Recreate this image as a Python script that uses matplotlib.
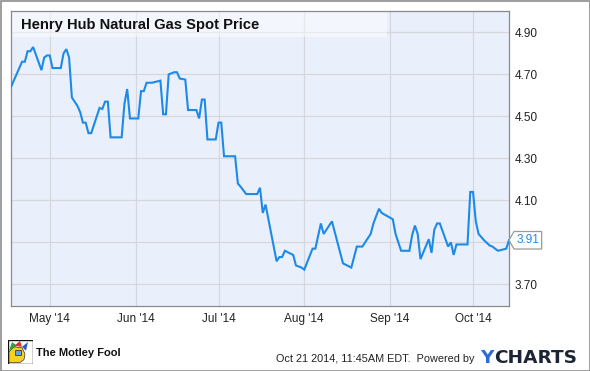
import pandas as pd
import matplotlib
matplotlib.use("Agg")
import matplotlib.pyplot as plt
import matplotlib.dates as mdates
import matplotlib.transforms as mtransforms
from matplotlib.patches import Rectangle, Polygon
from matplotlib.text import Text

# ---------------------------------------------------
# DATA
# ---------------------------------------------------
dates = [
    "2014-04-17", "2014-04-21", "2014-04-22", "2014-04-23", "2014-04-24", "2014-04-25",
    "2014-04-28", "2014-04-29", "2014-04-30",
    "2014-05-01", "2014-05-02", "2014-05-05", "2014-05-06", "2014-05-07", "2014-05-08",
    "2014-05-09", "2014-05-11", "2014-05-12", "2014-05-13", "2014-05-14", "2014-05-15",
    "2014-05-16", "2014-05-19", "2014-05-20", "2014-05-21", "2014-05-22", "2014-05-23",
    "2014-05-27", "2014-05-28", "2014-05-29", "2014-05-30",
    "2014-06-02", "2014-06-03", "2014-06-04", "2014-06-05", "2014-06-07", "2014-06-10",
    "2014-06-11", "2014-06-12", "2014-06-13", "2014-06-15", "2014-06-16", "2014-06-17",
    "2014-06-19", "2014-06-20", "2014-06-23", "2014-06-24", "2014-06-25", "2014-06-26",
    "2014-06-27", "2014-06-30",
    "2014-07-01", "2014-07-02", "2014-07-03", "2014-07-07", "2014-07-08", "2014-07-09",
    "2014-07-11", "2014-07-15", "2014-07-16", "2014-07-17", "2014-07-18", "2014-07-22",
    "2014-07-23", "2014-07-24", "2014-07-25", "2014-07-28", "2014-07-29", "2014-07-31",
    "2014-08-01", "2014-08-04", "2014-08-05", "2014-08-07", "2014-08-08", "2014-08-11",
    "2014-08-15", "2014-08-18", "2014-08-20", "2014-08-22", "2014-08-25", "2014-08-26",
    "2014-08-28", "2014-08-29",
    "2014-09-02", "2014-09-03", "2014-09-05", "2014-09-08", "2014-09-09", "2014-09-10",
    "2014-09-11", "2014-09-12", "2014-09-15", "2014-09-16", "2014-09-17", "2014-09-18",
    "2014-09-19", "2014-09-22", "2014-09-23", "2014-09-24", "2014-09-25", "2014-09-29",
    "2014-09-30",
    "2014-10-01", "2014-10-02", "2014-10-03", "2014-10-05", "2014-10-07", "2014-10-08",
    "2014-10-10", "2014-10-13", "2014-10-14",
]
prices = [
    4.64, 4.76, 4.76, 4.81, 4.81, 4.83, 4.72, 4.78, 4.79,
    4.79, 4.73, 4.73, 4.80, 4.82, 4.78, 4.59, 4.55, 4.52, 4.47, 4.47, 4.42,
    4.42, 4.54, 4.535, 4.57, 4.57, 4.40, 4.40, 4.56, 4.63, 4.49,
    4.49, 4.62, 4.62, 4.66, 4.66, 4.67, 4.51, 4.51, 4.70, 4.71, 4.71, 4.68,
    4.675, 4.53, 4.53, 4.49, 4.58, 4.58, 4.39, 4.39,
    4.47, 4.47, 4.31, 4.31, 4.18, 4.165, 4.13, 4.13, 4.16, 4.04, 4.08, 3.81,
    3.83, 3.83, 3.86, 3.84, 3.79, 3.78,
    3.77, 3.87, 3.87, 3.99, 3.94, 4.00, 3.80, 3.78, 3.88, 3.88, 3.94, 3.99,
    4.06, 4.04,
    4.01, 3.94, 3.86, 3.86, 3.935, 3.98, 3.94, 3.82, 3.915, 3.85, 3.96, 3.99,
    3.99, 3.88, 3.90, 3.84, 3.89, 3.89, 4.14,
    4.14, 4.00, 3.94, 3.91, 3.885, 3.88, 3.86, 3.87, 3.91,
]
y_ticks = [3.70, 3.90, 4.10, 4.30, 4.50, 4.70, 4.90]
# 3.90 label sits under the last-value flag in the original
y_labels = ["3.70", "", "4.10", "4.30", "4.50", "4.70", "4.90"]
x_ticks = ["2014-05-01", "2014-06-01", "2014-07-01", "2014-08-01", "2014-09-01", "2014-10-01"]

title = "Henry Hub Natural Gas Spot Price"
footer = "Oct 21 2014, 11:45AM EDT.  Powered by"

x = pd.to_datetime(dates)

# ---------------------------------------------------
# STYLE
# ---------------------------------------------------
plt.rcParams["font.family"] = ["Liberation Sans", "DejaVu Sans"]
line_color = "#1C8AE6"
bg_color = "#EAF0FB"
grid_color = "#D5D7DC"
spine_color = "#8A8A8A"

fig = plt.figure(figsize=(5.9, 3.71), dpi=100)
ax = fig.add_axes([11 / 590, 1 - 306 / 371, 498 / 590, 295.3 / 371])
ax.set_facecolor(bg_color)

ax.plot(x, prices, color=line_color, lw=1.5, solid_joinstyle="miter", zorder=3)

ax.set_xlim(x[0], x[-1])
ax.set_ylim(3.597, 5.003)

ax.yaxis.tick_right()
ax.set_yticks(y_ticks)
ax.set_yticklabels(y_labels)
ax.set_xticks(pd.to_datetime(x_ticks))
ax.xaxis.set_major_formatter(mdates.DateFormatter("%b '%y"))
ax.tick_params(axis="both", length=0, labelsize=8.5, colors="#222222")
ax.tick_params(axis="y", pad=4)
ax.tick_params(axis="x", pad=5)

ax.grid(True, color=grid_color, lw=0.9, zorder=0)
ax.set_axisbelow(True)
for s in ax.spines.values():
    s.set_color(spine_color)
    s.set_linewidth(0.9)

# title strip
ax.add_patch(Rectangle((0, 1 - 26 / 295.3), 376 / 498, 26 / 295.3, transform=ax.transAxes,
                       facecolor="white", alpha=0.45, edgecolor="none", zorder=2))
ax.text(0.021, 1 - 14 / 295.3, title, transform=ax.transAxes, fontsize=10.6,
        fontweight="bold", color="#111111", va="center", ha="left", zorder=4)

# last value flag
x_last = mdates.date2num(x[-1])
y_last = prices[-1]
flag_tr = mtransforms.Affine2D().scale(fig.dpi / 72) + \
    mtransforms.ScaledTranslation(x_last, y_last, ax.transData)
flag = Polygon([(0, 0), (3.6, 6.3), (23.5, 6.3), (23.5, -6.3), (3.6, -6.3)], closed=True,
               transform=flag_tr, facecolor="white", edgecolor="#9A9A9A", lw=0.9,
               clip_on=False, zorder=5)
fig.add_artist(flag)
flag_text = Text(13.8, 0, f"{y_last:.2f}", transform=flag_tr, ha="center", va="center",
                 fontsize=8.5, color=line_color, zorder=6)
fig.add_artist(flag_text)

# ---------------------------------------------------
# FOOTER
# ---------------------------------------------------
fig.add_artist(Rectangle((0.5 / 590, 0.5 / 371), 589 / 590, 370 / 371, transform=fig.transFigure,
                         fill=False, edgecolor="#8C8C8C", lw=1.2))

# simple jester logo
logo = fig.add_axes([8 / 590, 1 - 363.5 / 371, 25 / 590, 23.5 / 371])
logo.set_xlim(0, 25)
logo.set_ylim(0, 24)
logo.axis("off")
logo.add_patch(Rectangle((0, 0), 25, 24, facecolor="white", edgecolor="#111111", lw=1))
logo.add_patch(Polygon([(1, 1), (1, 12), (6, 17), (14, 16), (17, 10), (16, 4), (12, 1)],
                       facecolor="#F5D21F", edgecolor="#333333", lw=0.5))
logo.add_patch(Polygon([(1, 13), (4, 22), (9, 18)], facecolor="#2E9E3E", edgecolor="none"))
logo.add_patch(Polygon([(6, 18), (12, 23), (14, 17)], facecolor="#D93030", edgecolor="none"))
logo.add_patch(Polygon([(14, 17), (20, 22), (18, 13)], facecolor="#2C5FC4", edgecolor="none"))
logo.add_patch(Rectangle((7, 9), 6, 5, facecolor="#5BA8E8", edgecolor="#222222", lw=0.5))

fig.text(36 / 590, 1 - 355.7 / 371, "The Motley Fool", fontweight="bold",
         fontsize=8.0, color="#111111", ha="left", va="baseline")

fig.text(474 / 590, 1 - 362.3 / 371, footer, fontsize=7.8, color="#222222",
         ha="right", va="baseline")
fig.text(480 / 590, 1 - 363.3 / 371, "Y", family="DejaVu Sans", fontweight="bold",
         fontsize=13.3, color="#2F6BD6", ha="left", va="baseline")
fig.text(494 / 590, 1 - 363.3 / 371, "CHARTS", family="DejaVu Sans", fontweight="bold",
         fontsize=13.3, color="#1B2533", ha="left", va="baseline")

fig.savefig("out.png", dpi=100)
